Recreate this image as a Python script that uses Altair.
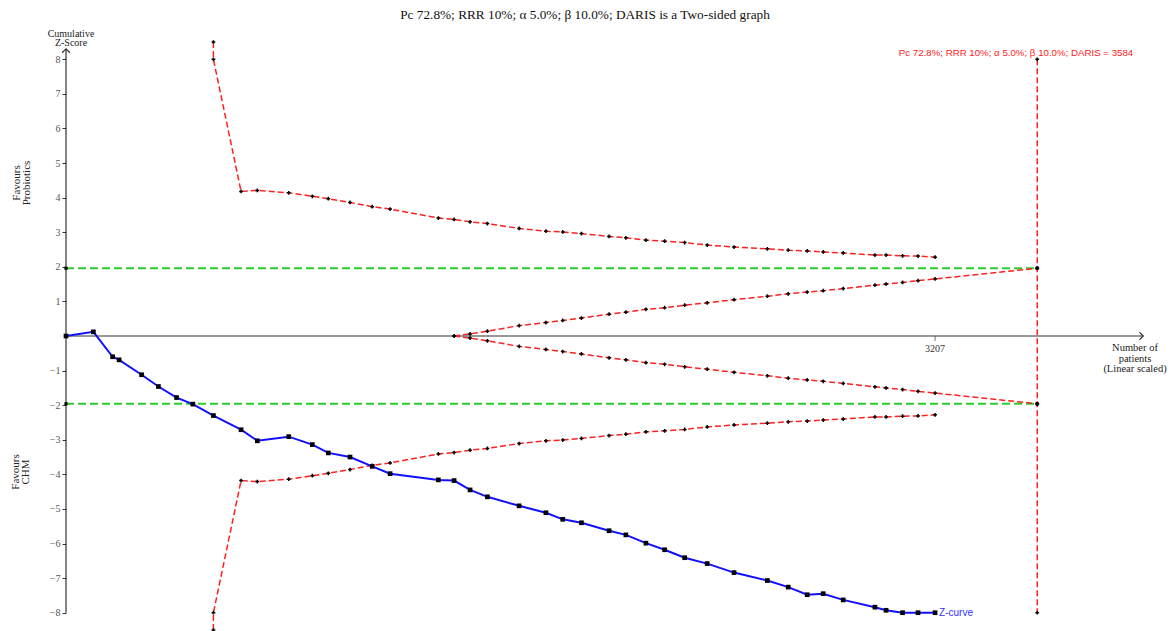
import altair as alt
import pandas as pd

# Cumulative number of patients at each trial, and the cumulative Z-score
trial_n = [0, 101, 172, 196, 279, 341, 408, 468, 544, 646, 706, 822, 909, 968,
           1048, 1130, 1196, 1374, 1432, 1491, 1555, 1672, 1771, 1833, 1902,
           2004, 2066, 2140, 2209, 2283, 2366, 2465, 2588, 2665, 2735, 2794,
           2868, 2985, 3026, 3087, 3144, 3207]
z_scores = [0.0, 0.12, -0.60, -0.69, -1.12, -1.46, -1.78, -1.97, -2.30, -2.71,
            -3.03, -2.91, -3.14, -3.38, -3.50, -3.77, -3.98, -4.16, -4.18,
            -4.45, -4.65, -4.91, -5.11, -5.30, -5.40, -5.63, -5.75, -5.99,
            -6.18, -6.41, -6.58, -6.84, -7.07, -7.26, -7.48, -7.45, -7.63,
            -7.84, -7.93, -8.0, -8.0, -8.0]

# Trial sequential monitoring boundaries (upper half; the lower half mirrors it)
outer_n = [544, 544, 646, 706, 822, 909, 968, 1048, 1130, 1196, 1374, 1432,
           1491, 1555, 1672, 1771, 1833, 1902, 2004, 2066, 2140, 2209, 2283,
           2366, 2465, 2588, 2665, 2735, 2794, 2868, 2985, 3026, 3087, 3144, 3207]
outer_z = [8.5, 8.0, 4.18, 4.21, 4.14, 4.04, 3.97, 3.86, 3.74, 3.67, 3.41, 3.37,
           3.30, 3.25, 3.11, 3.03, 3.01, 2.96, 2.88, 2.84, 2.77, 2.74, 2.70,
           2.63, 2.57, 2.52, 2.48, 2.46, 2.43, 2.40, 2.34, 2.34, 2.32, 2.31, 2.28]

# Futility (inner wedge) boundary
inner_n = [1432, 1491, 1555, 1672, 1771, 1833, 1902, 2004, 2066, 2140, 2209,
           2283, 2366, 2465, 2588, 2665, 2735, 2794, 2868, 2985, 3026, 3087,
           3144, 3207, 3584]
inner_z = [0.00, 0.06, 0.14, 0.30, 0.39, 0.45, 0.52, 0.63, 0.69, 0.77, 0.82,
           0.89, 0.96, 1.05, 1.15, 1.22, 1.27, 1.31, 1.37, 1.47, 1.50, 1.55,
           1.60, 1.65, 1.96]

daris = 3584
z_crit = 1.96
x_axis_end = 3975
y_axis_range = [-8.0, 8.3]
y_tick_values = [-8, -7, -6, -5, -4, -3, -2, -1, 1, 2, 3, 4, 5, 6, 7, 8]
x_tick_values = [3207]

title_text = "Pc 72.8%; RRR 10%; α 5.0%; β 10.0%; DARIS is a Two-sided graph"
daris_text = "Pc 72.8%; RRR 10%; α 5.0%; β 10.0%; DARIS = 3584"

# ---- tables ----
zdf = pd.DataFrame({"n": trial_n, "z": z_scores})

rows = []
for name, ns, zs in [("outer_up", outer_n, outer_z),
                     ("outer_lo", outer_n, [-v for v in outer_z]),
                     ("inner_up", inner_n, inner_z),
                     ("inner_lo", inner_n, [-v for v in inner_z]),
                     ("daris", [daris, daris], [8.0, -8.0])]:
    for i, (n, z) in enumerate(zip(ns, zs)):
        rows.append({"series": name, "idx": i, "n": n, "z": z})
bdf = pd.DataFrame(rows)
bdots = pd.concat([bdf, pd.DataFrame({"series": "daris_pts", "idx": 0,
                                      "n": [daris, daris],
                                      "z": [z_crit, -z_crit]})])

gdf = pd.DataFrame({"series": ["up", "up", "lo", "lo"],
                    "n": [0, daris, 0, daris],
                    "z": [z_crit, z_crit, -z_crit, -z_crit]})

xs = alt.Scale(domain=[0, 4000], nice=False, zero=False)
ys = alt.Scale(domain=[-8.5, 8.5], nice=False, zero=False)
y_axis = alt.Axis(values=y_tick_values, title=None, grid=False, domain=False,
                  labelFont="Liberation Serif", labelFontSize=10,
                  labelColor="#555555", tickColor="#333333", tickSize=4,
                  labelPadding=2)


def X(field="n"):
    return alt.X(f"{field}:Q", scale=xs, axis=None)


def Y(field="z"):
    return alt.Y(f"{field}:Q", scale=ys, axis=y_axis)


green = alt.Chart(gdf).mark_line(color="#2ecc2e", strokeWidth=2,
                                 strokeDash=[8, 4]).encode(
    x=X(), y=Y(), detail="series:N")
green_pts = alt.Chart(gdf).mark_square(color="black", size=10, opacity=1).encode(
    x=X(), y=Y())

axes_df = pd.DataFrame({"n": [0], "n2": [x_axis_end], "z": [0.0],
                        "ylo": [y_axis_range[0]], "yhi": [y_axis_range[1]]})
x_line = alt.Chart(axes_df).mark_rule(color="#333333", strokeWidth=1.2).encode(
    x=X(), x2="n2:Q", y=Y())
y_line = alt.Chart(axes_df).mark_rule(color="#333333", strokeWidth=1.2).encode(
    x=X(), y=Y("ylo"), y2="yhi:Q")

arrow_df = pd.DataFrame({"n": [x_axis_end, 0], "z": [0.0, y_axis_range[1]],
                         "dir": ["right", "up"]})
arrow_right = alt.Chart(arrow_df[arrow_df.dir == "right"]).mark_point(
    shape="M-1,-1L0,0L-1,1", filled=False, color="#333333", size=60,
    strokeWidth=1.2, opacity=1).encode(x=X(), y=Y())
arrow_up = alt.Chart(arrow_df[arrow_df.dir == "up"]).mark_point(
    shape="M-1,1L0,0L1,1", filled=False, color="#333333", size=60,
    strokeWidth=1.2, opacity=1).encode(x=X(), y=Y())

xt_df = pd.DataFrame({"n": x_tick_values, "z": [0.0] * len(x_tick_values),
                      "label": [str(v) for v in x_tick_values]})
x_ticks = alt.Chart(xt_df).mark_tick(orient="vertical", size=5, yOffset=2.5,
                                     color="#333333", thickness=1).encode(
    x=X(), y=Y())
x_tick_labels = alt.Chart(xt_df).mark_text(
    font="Liberation Serif", fontSize=10, color="#333333", dy=13,
    baseline="middle").encode(x=X(), y=Y(), text="label:N")

bounds = alt.Chart(bdf).mark_line(color="#ff2020", strokeWidth=1.5,
                                  strokeDash=[6, 3]).encode(
    x=X(), y=Y(), detail="series:N", order="idx:Q")
bound_pts = alt.Chart(bdots).mark_point(shape="cross", filled=True,
                                        color="black", size=14,
                                        opacity=1).encode(x=X(), y=Y())

zline = alt.Chart(zdf).mark_line(color="#1010ff", strokeWidth=2).encode(
    x=X(), y=Y())
zpts = alt.Chart(zdf).mark_square(color="black", size=22, opacity=1).encode(
    x=X(), y=Y())
zlabel = alt.Chart(zdf.tail(1)).mark_text(
    text="Z-curve", font="Liberation Sans", fontSize=10, color="#3333ff",
    align="left", baseline="middle", dx=4).encode(x=X(), y=Y())

title = alt.Chart(axes_df).mark_text(
    text=title_text, font="Liberation Serif", fontSize=13.3, color="#111111",
    align="center", baseline="middle").encode(x=alt.value(519), y=alt.value(-27))
daris_label = alt.Chart(axes_df).mark_text(
    text=daris_text, font="Liberation Sans", fontSize=9.7, color="#ff2020",
    align="center", baseline="middle").encode(x=alt.value(950), y=alt.value(11))
ytitle = alt.Chart(axes_df).mark_text(
    text="Cumulative\nZ-Score", lineBreak="\n", lineHeight=9,
    font="Liberation Serif", fontSize=10, color="#222222",
    align="center", baseline="middle").encode(x=alt.value(5), y=alt.value(-8))
xtitle = alt.Chart(axes_df).mark_text(
    text="Number of\npatients\n(Linear scaled)", lineBreak="\n", lineHeight=10.5,
    font="Liberation Serif", fontSize=10.5, color="#222222",
    align="center", baseline="middle").encode(x=alt.value(1069), y=alt.value(306))
fav_top = alt.Chart(axes_df).mark_text(
    text="Favours\nProbiotics", lineBreak="\n", lineHeight=10, angle=270,
    font="Liberation Serif", fontSize=11, color="#222222",
    align="center", baseline="middle").encode(x=alt.value(-49), y=alt.value(141))
fav_bot = alt.Chart(axes_df).mark_text(
    text="Favours\nCHM", lineBreak="\n", lineHeight=10, angle=270,
    font="Liberation Serif", fontSize=11, color="#222222",
    align="center", baseline="middle").encode(x=alt.value(-50), y=alt.value(430))

chart = alt.layer(
    green, x_line, y_line, arrow_right, arrow_up, x_ticks, x_tick_labels,
    bounds, bound_pts, green_pts, zline, zpts, zlabel,
    title, daris_label, ytitle, xtitle, fav_top, fav_bot
).properties(
    width=1084, height=588,
    autosize=alt.AutoSizeParams(type="none"),
    padding={"left": 66, "top": 42, "right": 21, "bottom": 1},
).configure_view(stroke=None)

chart.save("out.html", embed_options={"renderer": "svg", "actions": False})
